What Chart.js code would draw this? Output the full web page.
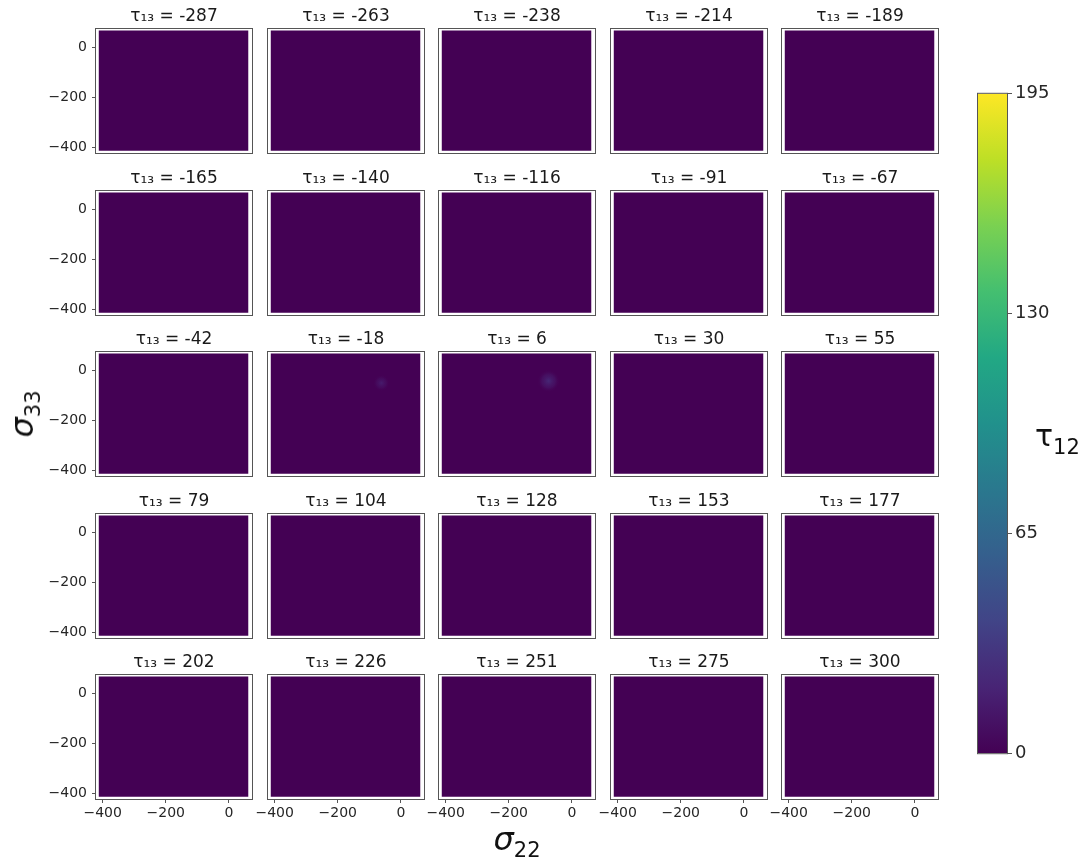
<!DOCTYPE html>
<html>
<head>
<meta charset="utf-8">
<script src="https://cdn.jsdelivr.net/npm/chart.js@4.4.1/dist/chart.umd.min.js"></script>
<style>
  body { margin: 0; background: #fff; width: 1087px; height: 861px; position: relative; overflow: hidden; font-family: "DejaVu Sans", sans-serif; }
  canvas { position: absolute; }
  .lbl { position: absolute; color: #111; white-space: nowrap; line-height: 1; }
  .lbl i { font-style: italic; }
  .lbl .sub { position: relative; }
</style>
</head>
<body>
<div id="stage"></div>
<div class="lbl" id="xlab" style="left:517px; top:823px; font-size:32px; transform:translateX(-50%);"><i>σ</i><span class="sub" style="font-size:21px; top:7px;">22</span></div>
<div class="lbl" id="ylab" style="left:22px; top:414px; font-size:32px; transform:translate(-50%,-50%) rotate(-90deg);"><i>σ</i><span class="sub" style="font-size:21px; top:7px;">33</span></div>
<div class="lbl" id="cblab" style="left:1035px; top:421px; font-size:30px;">τ<span class="sub" style="font-size:21px; top:8px;">12</span></div>
<script>
// tau13 value of each panel (row by row)
const tau13 = [-287, -263, -238, -214, -189,
               -165, -140, -116, -91, -67,
               -42, -18, 6, 30, 55,
               79, 104, 128, 153, 177,
               202, 226, 251, 275, 300];
// tau12 level over the whole sigma grid in each panel
const tau12Base = [0, 0, 0, 0, 0,
                   0, 0, 0, 0, 0,
                   0, 0, 0, 0, 0,
                   0, 0, 0, 0, 0,
                   0, 0, 0, 0, 0];
// extent of the sigma22 / sigma33 grid
const sigma22Grid = [-413, 62];
const sigma33Grid = [-413, 68];
// small tau12 bumps seen in two panels
const peakTau13 = [-18, 6];
const peakSigma22 = [-62, -74];
const peakSigma33 = [-50, -42];
const peakTau12 = [16, 24];
const peakSpread = [26, 36];
// axes
const xLimits = [-421, 73];
const yLimits = [-422, 74];
const xTicks = [-400, -200, 0];
const yTicks = [-400, -200, 0];
const cbTicks = [0, 65, 130, 195];
const cbRange = [0, 195];

const viridis = ['#440154', '#482475', '#414487', '#355f8d', '#2a788e', '#21918c',
                 '#22a884', '#44bf70', '#7ad151', '#bddf26', '#fde725'];

function hexRgb(h) {
    return [parseInt(h.slice(1, 3), 16), parseInt(h.slice(3, 5), 16), parseInt(h.slice(5, 7), 16)];
}
function cmap(v) {
    let t = (v - cbRange[0]) / (cbRange[1] - cbRange[0]);
    t = Math.max(0, Math.min(1, t)) * (viridis.length - 1);
    const i = Math.min(Math.floor(t), viridis.length - 2);
    const f = t - i;
    const a = hexRgb(viridis[i]), b = hexRgb(viridis[i + 1]);
    return a.map((c, k) => Math.round(c + (b[k] - c) * f));
}
function rgb(v, alpha) {
    const c = cmap(v);
    return 'rgba(' + c[0] + ',' + c[1] + ',' + c[2] + ',' + (alpha === undefined ? 1 : alpha) + ')';
}
function minus(v) {
    return v < 0 ? '\u2212' + Math.abs(v) : String(v);
}

Chart.defaults.font.family = '"DejaVu Sans", sans-serif';
Chart.defaults.color = '#262626';

const frame = {
    id: 'frame',
    afterDraw(chart) {
        const a = chart.chartArea, ctx = chart.ctx;
        ctx.save();
        ctx.strokeStyle = '#555555';
        ctx.lineWidth = 1;
        ctx.strokeRect(a.left - 0.5, a.top - 0.5, a.right - a.left + 1, a.bottom - a.top + 1);
        ctx.restore();
    }
};

// panel layout
const colLeft = [96, 268, 439, 611, 782];
const rowTop = [29, 191, 352, 514, 675];
const panelW = 156, panelH = 124;
const padL = 60, padR = 8, padT = 30, padB = 32;

const stage = document.getElementById('stage');

tau13.forEach((t, idx) => {
    const r = Math.floor(idx / 5), c = idx % 5;
    const cv = document.createElement('canvas');
    cv.width = panelW + padL + padR;
    cv.height = panelH + padT + padB;
    cv.style.left = (colLeft[c] - padL) + 'px';
    cv.style.top = (rowTop[r] - padT) + 'px';
    stage.appendChild(cv);

    const showY = c === 0, showX = r === 4;
    const datasets = [{
        type: 'line',
        order: 2,
        data: [{ x: sigma22Grid[0], y: sigma33Grid[1] }, { x: sigma22Grid[1], y: sigma33Grid[1] }],
        fill: { value: sigma33Grid[0] },
        backgroundColor: rgb(tau12Base[idx]),
        borderWidth: 0,
        pointRadius: 0
    }];
    const p = peakTau13.indexOf(t);
    if (p >= 0) {
        const spreadPx = ch => Math.abs(ch.scales.x.getPixelForValue(peakSigma22[p] + peakSpread[p]) -
                                        ch.scales.x.getPixelForValue(peakSigma22[p]));
        datasets.push({
            type: 'scatter',
            order: 1,
            data: [{ x: peakSigma22[p], y: peakSigma33[p] }],
            pointBorderWidth: 0,
            pointRadius: ctx => spreadPx(ctx.chart),
            pointBackgroundColor: ctx => {
                const ch = ctx.chart;
                const px = ch.scales.x.getPixelForValue(peakSigma22[p]);
                const py = ch.scales.y.getPixelForValue(peakSigma33[p]);
                const rad = spreadPx(ch);
                if (!isFinite(px) || !isFinite(py) || !rad) return rgb(peakTau12[p], 0.5);
                const g = ch.ctx.createRadialGradient(px, py, 0, px, py, rad);
                g.addColorStop(0, rgb(peakTau12[p], 0.9));
                g.addColorStop(0.6, rgb(peakTau12[p] * 0.6, 0.5));
                g.addColorStop(1, rgb(tau12Base[idx], 0));
                return g;
            }
        });
    }

    new Chart(cv, {
        type: 'scatter',
        data: { datasets },
        options: {
            responsive: false,
            animation: false,
            layout: { padding: { left: 0, right: padR, top: 0, bottom: 0 } },
            plugins: {
                legend: { display: false },
                tooltip: { enabled: false },
                title: {
                    display: true,
                    text: 'τ₁₃ = ' + t,
                    fullSize: false,
                    color: '#1a1a1a',
                    font: { size: 17, weight: 'normal', lineHeight: 1.2 },
                    padding: { top: 7.6, bottom: 2 }
                }
            },
            scales: {
                x: {
                    type: 'linear',
                    min: xLimits[0], max: xLimits[1],
                    afterBuildTicks: s => { s.ticks = xTicks.map(v => ({ value: v })); },
                    afterFit: s => { s.height = padB; },
                    grid: { display: showX, drawOnChartArea: false, drawTicks: true, tickLength: 4, color: '#555555' },
                    border: { display: false },
                    ticks: { display: showX, padding: 2, font: { size: 14 }, callback: v => minus(v), maxRotation: 0 }
                },
                y: {
                    type: 'linear',
                    min: yLimits[0], max: yLimits[1],
                    afterBuildTicks: s => { s.ticks = yTicks.map(v => ({ value: v })); },
                    afterFit: s => { s.width = padL; },
                    grid: { display: showY, drawOnChartArea: false, drawTicks: true, tickLength: 4, color: '#555555' },
                    border: { display: false },
                    ticks: { display: showY, padding: 5, font: { size: 14 }, callback: v => minus(v) }
                }
            }
        },
        plugins: [frame]
    });
});

// colorbar
const cbLeft = 978, cbTop = 90, cbW = 29, cbH = 667;
const cbCanvas = document.createElement('canvas');
cbCanvas.width = 10 + cbW + 62;
cbCanvas.height = cbH + 20;
cbCanvas.style.left = (cbLeft - 10) + 'px';
cbCanvas.style.top = (cbTop - 10) + 'px';
stage.appendChild(cbCanvas);

new Chart(cbCanvas, {
    type: 'bar',
    data: {
        labels: ['τ12'],
        datasets: [{
            data: [cbRange],
            barPercentage: 1,
            categoryPercentage: 1,
            borderWidth: 0,
            backgroundColor: ctx => {
                const a = ctx.chart.chartArea;
                if (!a) return viridis[0];
                const g = ctx.chart.ctx.createLinearGradient(0, a.bottom, 0, a.top);
                viridis.forEach((col, i) => g.addColorStop(i / (viridis.length - 1), col));
                return g;
            }
        }]
    },
    options: {
        responsive: false,
        animation: false,
        layout: { padding: { left: 10, top: 10, bottom: 10, right: 0 } },
        plugins: { legend: { display: false }, tooltip: { enabled: false } },
        scales: {
            x: { display: false },
            y: {
                position: 'right',
                min: cbRange[0], max: cbRange[1],
                afterBuildTicks: s => { s.ticks = cbTicks.map(v => ({ value: v })); },
                afterFit: s => { s.width = 62; },
                grid: { drawOnChartArea: false, drawTicks: true, tickLength: 5, color: '#555555' },
                border: { display: false },
                ticks: { padding: 3, font: { size: 18 }, color: '#262626' }
            }
        }
    },
    plugins: [frame]
});
</script>
</body>
</html>
